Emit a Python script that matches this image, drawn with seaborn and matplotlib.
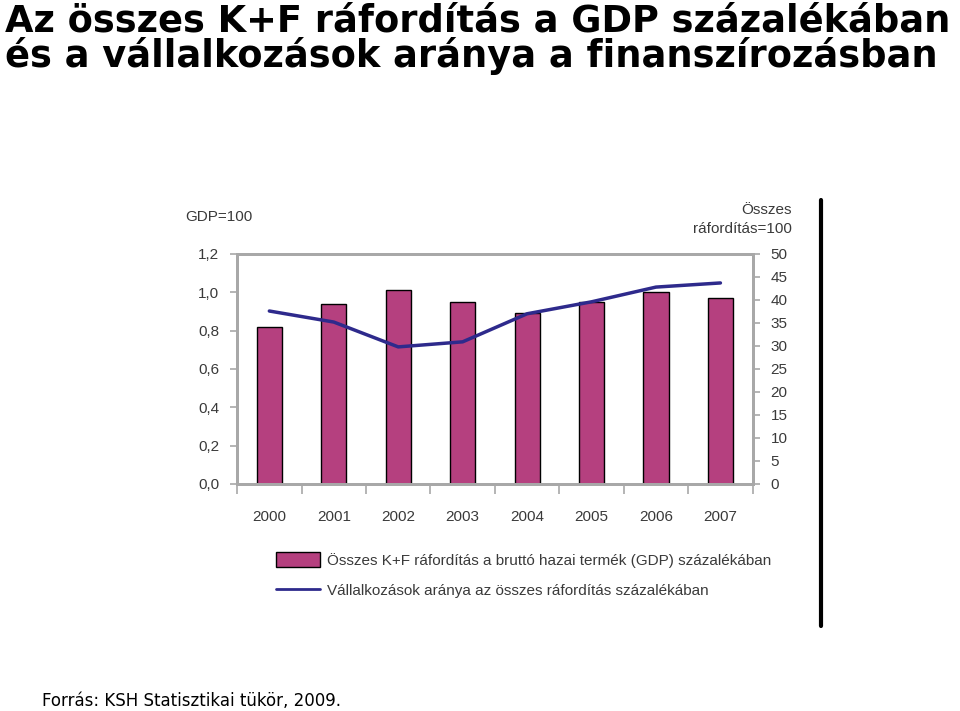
import matplotlib
matplotlib.use("Agg")
import matplotlib.pyplot as plt
import seaborn as sns
import numpy as np
import pandas as pd
from matplotlib.lines import Line2D
from matplotlib.patches import Patch

years = ["2000", "2001", "2002", "2003", "2004", "2005", "2006", "2007"]
gdp_share = [0.82, 0.94, 1.01, 0.95, 0.89, 0.95, 1.00, 0.97]
business_share = [37.6, 35.2, 29.8, 30.9, 37.0, 39.6, 42.8, 43.7]
left_ticks = [0.0, 0.2, 0.4, 0.6, 0.8, 1.0, 1.2]
left_tick_labels = ["0,0", "0,2", "0,4", "0,6", "0,8", "1,0", "1,2"]
right_ticks = [0, 5, 10, 15, 20, 25, 30, 35, 40, 45, 50]

title_line1 = "Az összes K+F ráfordítás a GDP százalékában"
title_line2 = "és a vállalkozások aránya a finanszírozásban"
bar_label = "Összes K+F ráfordítás a bruttó hazai termék (GDP) százalékában"
line_label = "Vállalkozások aránya az összes ráfordítás százalékában"
source = "Forrás: KSH Statisztikai tükör, 2009."

sns.set_theme(style="white")
plt.rcParams['font.family'] = ['Liberation Sans', 'DejaVu Sans']

bar_color = "#B5407F"
line_color = "#2E2A8C"
spine_color = "#A8A8A8"
text_color = "#3A3A3A"

fig = plt.figure(figsize=(9.6, 7.11), dpi=100)
ax = fig.add_axes([0.247, 0.3193, 0.537, 0.3235])

df = pd.DataFrame({"year": years, "gdp": gdp_share})
sns.barplot(data=df, x="year", y="gdp", color=bar_color, edgecolor="black",
            linewidth=1.0, width=0.39, saturation=1, ax=ax)
ax.set_ylim(0, 1.2)
ax.set_xlim(-0.5, len(years) - 0.5)
ax.set_yticks(left_ticks)
ax.set_yticklabels(left_tick_labels)
ax.set_xlabel("")
ax.set_ylabel("")
ax.set_xticks(np.arange(len(years)))
ax.set_xticklabels(years)
ax.tick_params(axis="x", length=0, pad=19, labelsize=11, colors=text_color)
ax.tick_params(axis="y", length=5, width=1.2, color=spine_color, labelsize=11,
               labelcolor=text_color, direction="out", pad=8, left=True)
ax.set_xticks(np.arange(-0.5, len(years)), minor=True)
ax.tick_params(axis="x", which="minor", length=7, width=1.2, color=spine_color,
               direction="out", bottom=True)
for s in ax.spines.values():
    s.set_color(spine_color)
    s.set_linewidth(2)

ax2 = ax.twinx()
sns.lineplot(x=np.arange(len(years)), y=business_share, color=line_color,
             linewidth=2.5, ax=ax2)
ax2.set_ylim(0, 50)
ax2.set_yticks(right_ticks)
ax2.tick_params(axis="y", length=5, width=1.2, color=spine_color, labelsize=11,
                labelcolor=text_color, direction="out", pad=8, right=True)
for s in ax2.spines.values():
    s.set_color(spine_color)
    s.set_linewidth(2)
ax2.set_xlim(-0.5, len(years) - 0.5)

fig.text(0.193, 0.695, "GDP=100", fontsize=11, color=text_color, ha="left", va="center")
fig.text(0.825, 0.705, "Összes", fontsize=11, color=text_color, ha="right", va="center")
fig.text(0.825, 0.678, "ráfordítás=100", fontsize=11, color=text_color, ha="right", va="center")

fig.text(0.005, 1 - 32/711, title_line1, fontsize=26.5, fontweight="bold", color="black",
         family=["DejaVu Sans"], ha="left", va="baseline")
fig.text(0.005, 1 - 67/711, title_line2, fontsize=26.5, fontweight="bold", color="black",
         family=["DejaVu Sans"], ha="left", va="baseline")

handles = [Patch(facecolor=bar_color, edgecolor="black", linewidth=1.0, label=bar_label),
           Line2D([0], [0], color=line_color, linewidth=2, label=line_label)]
fig.legend(handles=handles, loc="upper left", bbox_to_anchor=(0.287, 1 - 552/711),
           bbox_transform=fig.transFigure,
           frameon=False, fontsize=11, labelcolor=text_color, borderpad=0,
           handlelength=2.9, handleheight=1.1, handletextpad=0.5, labelspacing=1.0,
           borderaxespad=0)

fig.add_artist(Line2D([0.855, 0.855], [1 - 200/711, 1 - 626/711], color="black",
                      linewidth=3, transform=fig.transFigure))

fig.text(0.044, 0.002, source, fontsize=12, family=["DejaVu Sans"], color="black",
         ha="left", va="bottom")

fig.savefig("out.png", dpi=100)
